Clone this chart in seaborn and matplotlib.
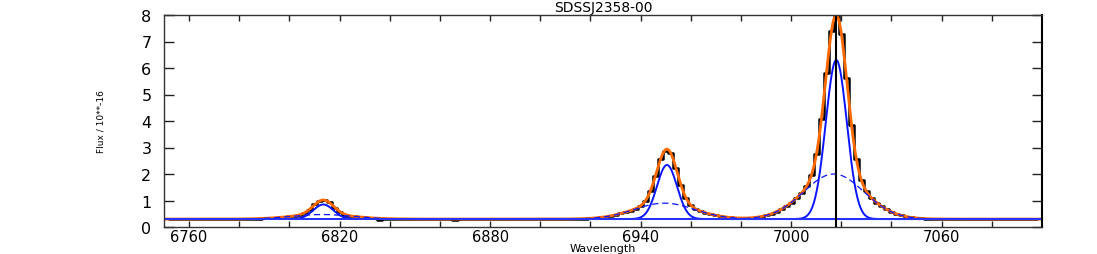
import numpy as np
import matplotlib
matplotlib.use("Agg")
import matplotlib.pyplot as plt
import seaborn as sns

# ---- values ----
title = "SDSSJ2358-00"
x_label = "Wavelength"
y_label = "Flux / 10**-16"
x_range = (6750, 7100)
y_range = (0, 8)
x_label_ticks = [6760, 6820, 6880, 6940, 7000, 7060]
y_label_ticks = [0, 1, 2, 3, 4, 5, 6, 7, 8]

# continuum and gaussian components (Hbeta, [OIII]4959, [OIII]5007)
continuum = 0.30
narrow_centre = [6813.5, 6950.5, 7018.0]
narrow_amp = [0.55, 2.04, 6.00]
narrow_sigma = [4.0, 4.0, 4.2]
broad_centre = [6813.0, 6949.5, 7017.0]
broad_amp = [0.17, 0.60, 1.70]
broad_sigma = [12.0, 12.0, 12.0]
marker_wave = 7018.0

# observed spectrum, 2 A pixels from 6752 to 7098
obs_wave = np.arange(6752, 7100, 2)
obs_flux = [
    # 6752 - 6794
    0.30, 0.31, 0.30, 0.29, 0.30, 0.30, 0.31, 0.30, 0.30, 0.29, 0.30,
    0.30, 0.31, 0.30, 0.30, 0.31, 0.31, 0.32, 0.32, 0.33, 0.34, 0.35,
    # 6796 - 6838 (Hbeta)
    0.36, 0.38, 0.40, 0.42, 0.46, 0.54, 0.66, 0.85, 0.97, 1.02, 0.93,
    0.73, 0.58, 0.47, 0.43, 0.40, 0.38, 0.36, 0.35, 0.33, 0.27, 0.30,
    # 6840 - 6918
    0.30, 0.30, 0.31, 0.30, 0.30, 0.29, 0.30, 0.30, 0.30, 0.30,
    0.30, 0.30, 0.30, 0.27, 0.29, 0.30, 0.30, 0.31, 0.30, 0.30,
    0.30, 0.30, 0.31, 0.30, 0.30, 0.30, 0.29, 0.30, 0.30, 0.30,
    0.31, 0.30, 0.30, 0.31, 0.30, 0.31, 0.31, 0.32, 0.32, 0.32,
    # 6920 - 6928
    0.33, 0.34, 0.36, 0.39, 0.42,
    # 6930 - 6976 ([OIII] 4959)
    0.46, 0.51, 0.56, 0.62, 0.69, 0.80, 0.99, 1.37, 1.94, 2.57, 2.88, 2.80,
    2.24, 1.59, 1.11, 0.82, 0.68, 0.60, 0.53, 0.48, 0.44, 0.40, 0.38, 0.36,
    # 6978 - 6988
    0.34, 0.34, 0.34, 0.35, 0.37, 0.39,
    # 6990 - 7050 ([OIII] 5007)
    0.44, 0.49, 0.57, 0.67, 0.79, 0.92, 1.08, 1.29, 1.54, 1.95, 2.75,
    4.08, 5.80, 7.38, 7.98, 7.30, 5.62, 3.85, 2.55, 1.76, 1.35, 1.10,
    0.92, 0.79, 0.67, 0.57, 0.49, 0.44, 0.39, 0.36, 0.34,
    # 7052 - 7098
    0.33, 0.32, 0.31, 0.31, 0.30, 0.30, 0.31, 0.30, 0.30, 0.30, 0.29, 0.30,
    0.30, 0.31, 0.30, 0.30, 0.30, 0.29, 0.30, 0.30, 0.30, 0.31, 0.30, 0.30,
]


def gauss(x, c, a, s):
    return a * np.exp(-0.5 * ((x - c) / s) ** 2)


sns.set_style("ticks")
plt.rcParams['font.family'] = ['DejaVu Sans']

fig = plt.figure(figsize=(10.97, 2.55), dpi=100)
ax = fig.add_axes([164 / 1097, 1 - 228 / 255, (1042 - 164) / 1097, (228 - 16) / 255])

# model grid
wl = np.linspace(x_range[0], x_range[1], 1751)
cont = np.full_like(wl, continuum)
narrow = [cont + gauss(wl, c, a, s) for c, a, s in zip(narrow_centre, narrow_amp, narrow_sigma)]
broad = [cont + gauss(wl, c, a, s) for c, a, s in zip(broad_centre, broad_amp, broad_sigma)]
total = cont + sum(n - cont for n in narrow) + sum(b - cont for b in broad)

sns.lineplot(x=obs_wave, y=obs_flux, drawstyle='steps-mid', color='black', lw=1.8, ax=ax)
sns.lineplot(x=wl, y=total, color='#ff6a00', lw=2.0, ax=ax)
for n in narrow:
    sns.lineplot(x=wl, y=n, color='#0a14ff', lw=1.4, ax=ax)
for b in broad:
    sns.lineplot(x=wl, y=b, color='#0a14ff', lw=0.9, linestyle=(0, (5, 3)), ax=ax)
sns.lineplot(x=wl, y=cont, color='#3340ff', lw=1.0, ax=ax)
ax.axvline(marker_wave, color='black', lw=1.5)

ax.set_xlim(*x_range)
ax.set_ylim(*y_range)
ax.set_xticks(x_label_ticks)
ax.set_xticks(np.arange(6760, 7100, 20), minor=True)
ax.set_yticks(y_label_ticks)
ax.tick_params(axis='x', which='both', direction='in', length=4, width=1,
               top=True, bottom=True, pad=1.5, labelsize=10.5, color='#222222',
               labelcolor='black')
ax.tick_params(axis='y', which='both', direction='in', length=7, width=1,
               left=True, right=True, pad=9, labelsize=11.5, color='#222222',
               labelcolor='black')
for sp in ax.spines.values():
    sp.set_linewidth(1.0)
    sp.set_color('#333333')
ax.spines['right'].set_linewidth(1.5)
ax.spines['right'].set_color('black')

ax.set_title(title, fontsize=10, pad=3, color='black')
ax.set_xlabel(x_label, fontsize=8, color='black', va='center')
ax.xaxis.set_label_coords(0.5, -0.1)
ax.set_ylabel(y_label, fontsize=6.5, labelpad=26, color='black')

fig.savefig("out.png", dpi=100)
